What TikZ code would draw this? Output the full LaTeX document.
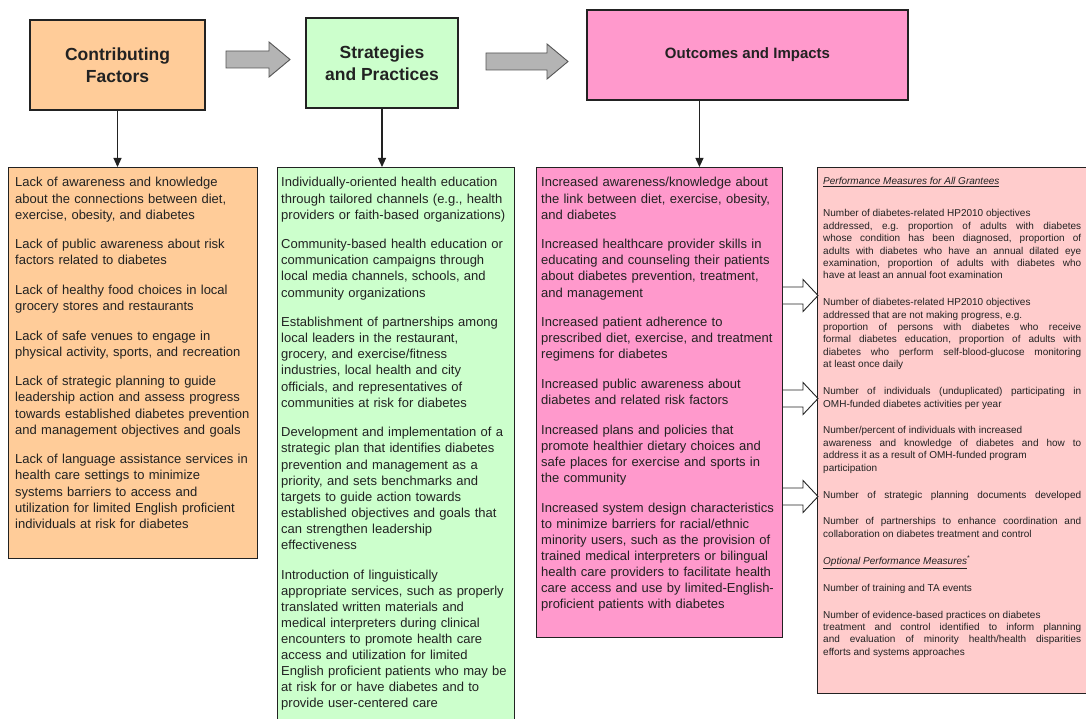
\documentclass[tikz,border=0pt]{standalone}
\usepackage{fontspec}
\setmainfont{Liberation Sans}
\usetikzlibrary{arrows.meta,calc}

\definecolor{peach}{HTML}{FFCC99}
\definecolor{mint}{HTML}{CCFFCC}
\definecolor{rose}{HTML}{FF99CC}
\definecolor{blush}{HTML}{FFCCCC}
\definecolor{ink}{HTML}{222222}
\definecolor{fatfill}{HTML}{B4B4B4}
\definecolor{fatedge}{HTML}{555555}

\tikzset{
  header/.style={draw=ink, line width=1.1pt, align=center, text=ink,
    font=\fontsize{17.5}{22}\selectfont\bfseries},
  panel/.style={draw=ink, line width=1pt, anchor=north west, inner sep=0pt},
  body/.style={anchor=base west, inner sep=0pt, align=left, text width=#1,
    text=ink, font=\fontsize{13}{16.1}\selectfont},
  smallbody/.style={anchor=base west, inner sep=0pt, align=justify, text width=#1,
    text=ink, font=\fontsize{10}{12.4}\selectfont},
  down/.style={draw=ink, line width=1.1pt, -{Triangle[length=9pt,width=8pt]}},
  fatstyle/.style={fill=fatfill, draw=fatedge, line width=0.9pt},
  hollowstyle/.style={fill=white, draw=ink, line width=0.9pt},
  pics/fatarrow/.style={code={
    \draw[fatstyle] (0,-8.5) -- (#1-21,-8.5) -- (#1-21,-17.5) -- (#1,0)
      -- (#1-21,17.5) -- (#1-21,8.5) -- (0,8.5) -- cycle;}},
  pics/hollowarrow/.style={code={
    \draw[hollowstyle] (0,-8.5) -- (20,-8.5) -- (20,-16) -- (35,0)
      -- (20,16) -- (20,8.5) -- (0,8.5);}}
}

\begin{document}
\begin{tikzpicture}[x=1pt,y=-1pt]
\useasboundingbox (0,0) rectangle (1086,719);
\fill[white] (0,0) rectangle (1086,719);

% column headings
\node[header, fill=peach, minimum width=175pt, minimum height=90pt] (h1)
  at (117.5,65) {Contributing\\Factors};
\node[header, fill=mint, minimum width=152pt, minimum height=90pt] (h2)
  at (382,63) {Strategies\\and Practices};
\node[header, fill=rose, minimum width=321pt, minimum height=90pt,
  font=\fontsize{15}{19}\selectfont\bfseries] (h3)
  at (747.5,55) {Outcomes and Impacts};

% grey block arrows between headings
\pic at (226,59.5) {fatarrow=64};
\pic at (486,61.5) {fatarrow=82};

% content panels
\node[panel, fill=peach, minimum width=249pt, minimum height=391pt] (c1) at (8,167) {};
\node[panel, fill=mint, minimum width=237pt, minimum height=553pt] (c2) at (277,167) {};
\node[panel, fill=rose, minimum width=246pt, minimum height=470pt] (c3) at (536,167) {};
\node[panel, fill=blush, minimum width=273pt, minimum height=526pt] (c4) at (817,167) {};

% heading to panel arrows
\draw[down] (h1.south) -- (h1.south |- c1.north);
\draw[down] (h2.south) -- (h2.south |- c2.north);
\path ($(h3.south west)+(113,0)$) coordinate (s3);
\draw[down] (s3) -- (s3 |- c3.north);

% outcome to measure arrows
\pic at ($(c3.north east)+(0,128.5)$) {hollowarrow};
\pic at ($(c3.north east)+(0,231.5)$) {hollowarrow};
\pic at ($(c3.north east)+(0,329.5)$) {hollowarrow};

% panel texts
\node[body=245pt] (t1) at ($(c1.north west)+(7,20)$) {%
Lack of awareness and knowledge\\
about the connections between diet,\\
exercise, obesity, and diabetes\\[13.5pt]
Lack of public awareness about risk\\
factors related to diabetes\\[13.5pt]
Lack of healthy food choices in local\\
grocery stores and restaurants\\[13.5pt]
Lack of safe venues to engage in\\
physical activity, sports, and recreation\\[13.5pt]
Lack of strategic planning to guide\\
leadership action and assess progress\\
towards established diabetes prevention\\
and management objectives and goals\\[13.5pt]
Lack of language assistance services in\\
health care settings to minimize\\
systems barriers to access and\\
utilization for limited English proficient\\
individuals at risk for diabetes};

\node[body=240pt] (t2) at ($(c2.north west)+(4,20)$) {%
Individually-oriented health education\\
through tailored channels (e.g., health\\
providers or faith-based organizations)\\[13.5pt]
Community-based health education or\\
communication campaigns through\\
local media channels, schools, and\\
community organizations\\[13.5pt]
Establishment of partnerships among\\
local leaders in the restaurant,\\
grocery, and exercise/fitness\\
industries, local health and city\\
officials, and representatives of\\
communities at risk for diabetes\\[13.5pt]
Development and implementation of a\\
strategic plan that identifies diabetes\\
prevention and management as a\\
priority, and sets benchmarks and\\
targets to guide action towards\\
established objectives and goals that\\
can strengthen leadership\\
effectiveness\\[13.5pt]
Introduction of linguistically\\
appropriate services, such as properly\\
translated written materials and\\
medical interpreters during clinical\\
encounters to promote health care\\
access and utilization for limited\\
English proficient patients who may be\\
at risk for or have diabetes and to\\
provide user-centered care};

\node[body=245pt] (t3) at ($(c3.north west)+(5,20)$) {%
Increased awareness/knowledge about\\
the link between diet, exercise, obesity,\\
and diabetes\\[13.5pt]
Increased healthcare provider skills in\\
educating and counseling their patients\\
about diabetes prevention, treatment,\\
and management\\[13.5pt]
Increased patient adherence to\\
prescribed diet, exercise, and treatment\\
regimens for diabetes\\[13.5pt]
Increased public awareness about\\
diabetes and related risk factors\\[13.5pt]
Increased plans and policies that\\
promote healthier dietary choices and\\
safe places for exercise and sports in\\
the community\\[13.5pt]
Increased system design characteristics\\
to minimize barriers for racial/ethnic\\
minority users, such as the provision of\\
trained medical interpreters or bilingual\\
health care providers to facilitate health\\
care access and use by limited-English-\\
proficient patients with diabetes};

\node[smallbody=258pt] (t4) at ($(c4.north west)+(6,18)$) {%
\setlength{\parskip}{14.5pt}\setlength{\parindent}{0pt}\frenchspacing
\underline{\textit{Performance Measures for All Grantees}}\par
\vspace{5pt}%
Number of diabetes-related HP2010 objectives\newline
addressed, e.g.\ proportion of adults with diabetes\linebreak
whose condition has been diagnosed, proportion of\linebreak
adults with diabetes who have an annual dilated eye\linebreak
examination, proportion of adults with diabetes who\linebreak
have at least an annual foot examination\par
Number of diabetes-related HP2010 objectives\newline
addressed that are not making progress, e.g.\newline
proportion of persons with diabetes who receive\linebreak
formal diabetes education, proportion of adults with\linebreak
diabetes who perform self-blood-glucose monitoring\linebreak
at least once daily\par
Number of individuals (unduplicated) participating in\linebreak
OMH-funded diabetes activities per year\par
Number/percent of individuals with increased\newline
awareness and knowledge of diabetes and how to\linebreak
address it as a result of OMH-funded program\newline
participation\par
{\parfillskip=0pt Number of strategic planning documents developed\par}
Number of partnerships to enhance coordination and\linebreak
collaboration on diabetes treatment and control\par
\underline{\textit{Optional Performance Measures}}\textsuperscript{*}\par
Number of training and TA events\par
Number of evidence-based practices on diabetes\newline
treatment and control identified to inform planning\linebreak
and evaluation of minority health/health disparities\linebreak
efforts and systems approaches};
\end{tikzpicture}
\end{document}
